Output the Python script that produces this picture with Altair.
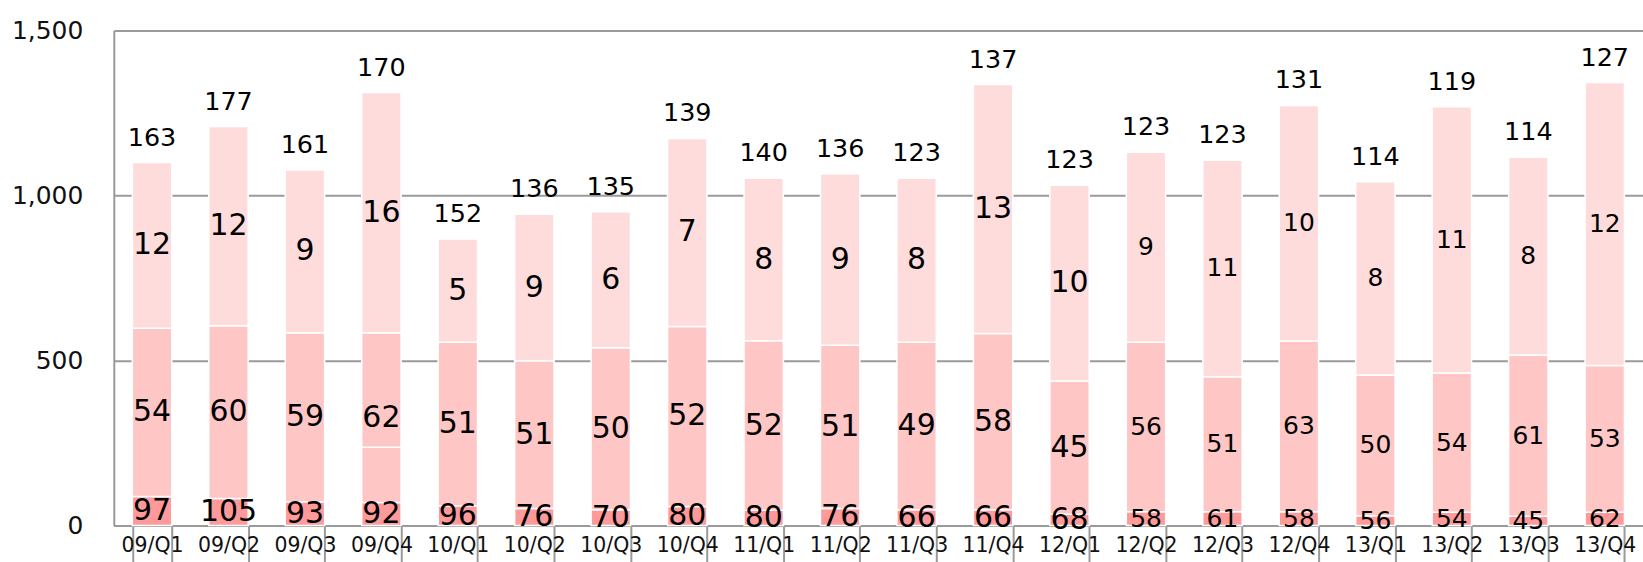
import altair as alt
import pandas as pd

quarters = ["09/Q1", "09/Q2", "09/Q3", "09/Q4", "10/Q1", "10/Q2", "10/Q3", "10/Q4",
            "11/Q1", "11/Q2", "11/Q3", "11/Q4", "12/Q1", "12/Q2", "12/Q3", "12/Q4",
            "13/Q1", "13/Q2", "13/Q3", "13/Q4"]

# segment heights (axis units)
bottom_h = [88, 82, 72, 70, 60, 52, 48, 58, 46, 52, 48, 48, 34, 42, 42, 42, 30, 40, 28, 40]
mid_h = [510, 523, 512, 514, 495, 447, 491, 545, 514, 494, 507, 534, 404, 513, 409, 517, 426, 422, 489, 445]
top_h = [502, 604, 493, 728, 313, 444, 412, 570, 492, 520, 497, 754, 593, 576, 656, 714, 586, 807, 599, 857]
# split inside the middle segment (cumulative value)
mid_split = {"09/Q4": 237}

# labels
bottom_n = [97, 105, 93, 92, 96, 76, 70, 80, 80, 76, 66, 66, 68, 58, 61, 58, 56, 54, 45, 62]
mid_n = [54, 60, 59, 62, 51, 51, 50, 52, 52, 51, 49, 58, 45, 56, 51, 63, 50, 54, 61, 53]
top_n = [12, 12, 9, 16, 5, 9, 6, 7, 8, 9, 8, 13, 10, 9, 11, 10, 8, 11, 8, 12]
total_n = [163, 177, 161, 170, 152, 136, 135, 139, 140, 136, 123, 137, 123, 123, 123, 131, 114, 119, 114, 127]

series = ["bottom", "mid", "top"]
colors = ["#ff9a9a", "#ffc6c6", "#ffdcdc"]

seg_rows, lab_rows, tot_rows = [], [], []
for i, q in enumerate(quarters):
    b, m, t = bottom_h[i], mid_h[i], top_h[i]
    c1, c2, c3 = b, b + m, b + m + t
    seg_rows.append({"q": q, "s": "bottom", "y0": 0, "y1": c1})
    if q in mid_split:
        seg_rows.append({"q": q, "s": "mid", "y0": c1, "y1": mid_split[q]})
        seg_rows.append({"q": q, "s": "mid", "y0": mid_split[q], "y1": c2})
    else:
        seg_rows.append({"q": q, "s": "mid", "y0": c1, "y1": c2})
    seg_rows.append({"q": q, "s": "top", "y0": c2, "y1": c3})
    big = i < 13
    lab_rows.append({"q": q, "ym": c1 / 2, "lab": str(bottom_n[i]), "big": big})
    lab_rows.append({"q": q, "ym": (c1 + c2) / 2, "lab": str(mid_n[i]), "big": big})
    lab_rows.append({"q": q, "ym": (c2 + c3) / 2, "lab": str(top_n[i]), "big": big})
    tot_rows.append({"q": q, "yt": c3, "lab": str(total_n[i])})

seg = pd.DataFrame(seg_rows)
lab = pd.DataFrame(lab_rows)
tot = pd.DataFrame(tot_rows)

FONT = "DejaVu Sans"
GREY = "#9a9a9a"

xscale = alt.Scale(domain=quarters, paddingInner=0.485, paddingOuter=0.2425)
x_axis = alt.Axis(title=None, labelAngle=0, labelFontSize=20.5, labelFont=FONT)
yscale = alt.Scale(domain=[0, 1500], nice=False, zero=True)
y_axis = alt.Axis(title=None, values=[0, 500, 1000, 1500], format=",d")

X = alt.X("q:N", scale=xscale, axis=x_axis, sort=quarters)

bars = alt.Chart(seg).mark_bar(stroke="white", strokeWidth=1.5).encode(
    x=X,
    y=alt.Y("y0:Q", scale=yscale, axis=y_axis),
    y2="y1:Q",
    color=alt.Color("s:N", scale=alt.Scale(domain=series, range=colors), legend=None),
)

def text_layer(size, flag):
    return alt.Chart(lab).transform_filter(
        alt.datum.big == flag
    ).mark_text(font=FONT, fontSize=size, color="#000", baseline="middle").encode(
        x=X,
        y=alt.Y("ym:Q", scale=yscale, axis=y_axis),
        text="lab:N",
    )

big_txt = text_layer(30, True)
small_txt = text_layer(25, False)

totals = alt.Chart(tot).mark_text(font=FONT, fontSize=25.5, color="#000",
                                  baseline="alphabetic", dy=-17).encode(
    x=X,
    y=alt.Y("yt:Q", scale=yscale, axis=y_axis),
    text="lab:N",
)

chart = alt.layer(bars, big_txt, small_txt, totals).properties(
    width=1532, height=496,
    padding={"left": 114, "top": 30, "right": 0, "bottom": 36},
    autosize="none",
    background="white",
).configure_view(
    stroke=None
).configure_axis(
    labelFont=FONT, labelColor="#111", domainColor=GREY, domainWidth=2,
    gridColor=GREY, gridWidth=2, tickColor=GREY, tickWidth=2,
).configure_axisX(
    labelFontSize=20.5, tickBand="extent", tickSize=36, labelPadding=-26, grid=False,
).configure_axisY(
    labelFontSize=25, ticks=False, labelPadding=31, grid=True,
)

chart.save("out.html", embed_options={"renderer": "svg", "actions": False})
